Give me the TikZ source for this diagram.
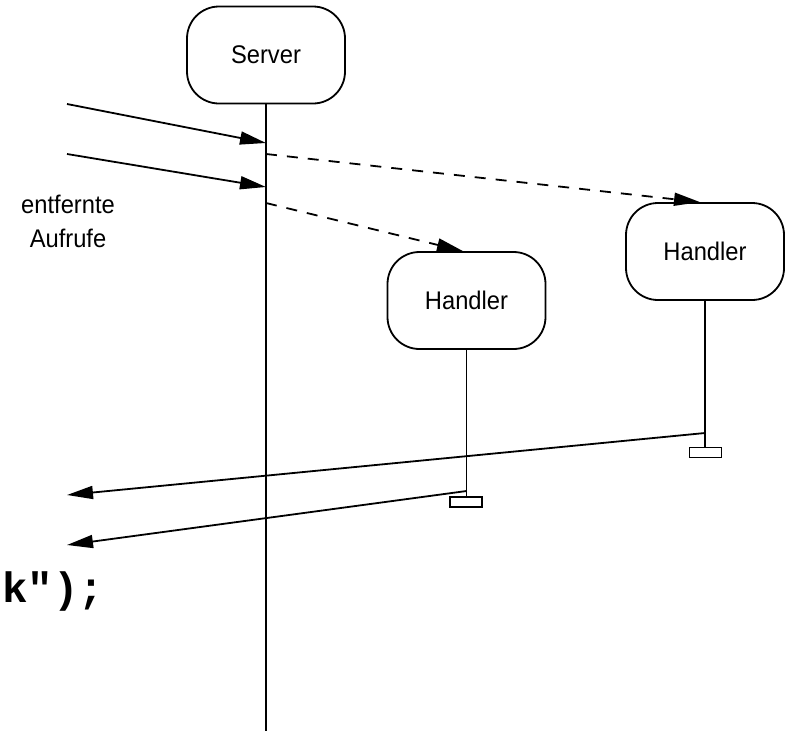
\documentclass[tikz,border=0pt]{standalone}
\usepackage{fontspec}
\setmainfont{Liberation Sans}[FakeStretch = 0.93]
\newfontfamily\codefont{Liberation Mono}
\usetikzlibrary{positioning, arrows.meta}

\begin{document}
\begin{tikzpicture}[x = 1pt, y = -1pt, line width = 1.8pt,
    proc/.style = { draw, rounded corners = 32pt, minimum width = 158pt, minimum height = 97pt, font = \fontsize{25.5}{30}\selectfont },
    stub/.style = { draw, minimum width = 32pt, minimum height = 10pt, inner sep = 0pt, line width = 1.4pt },
    msg/.style = { -{Triangle[length = 26pt, width = 13pt]} },
    call/.style = { msg, dash pattern = on 11pt off 10pt }]
    \clip (0, 0) rectangle (791, 731);

    \node[proc] (server) at (266, 55) { Server };
    \node[proc] (h1) at (466.5, 300.5) { Handler };
    \node[proc] (h2) at (705, 251.5) { Handler };
    \node[stub] (t1) at (466, 502) { };
    \node[stub] (t2) at (705.5, 452.5) { };

    \node[align = center, inner sep = 0, font = \fontsize{25.5}{34}\selectfont] (note) at (68, 221) { entfernte\\Aufrufe };
    \node[anchor = base east, inner sep = 0, font = \codefont\bfseries\fontsize{42.5}{50}\selectfont] (code) at (105, 602) { k"); };

    \coordinate (in1) at (67, 104);
    \coordinate (in2) at (67, 154);
    \coordinate (out1) at (67, 495);
    \coordinate (out2) at (67, 545);
    \coordinate (bottom) at (266, 731);

    \draw (server) -- (bottom);
    \draw (h1) -- (h1.south |- t1.north);
    \draw (h2) -- (h2.south |- t2.north);

    \draw[msg] (in1) -- (server.south |- 0, 143);
    \draw[msg] (in2) -- (server.south |- 0, 187);
    \draw[call] (server.south |- 0, 154) -- ([xshift = -5pt] h2.north);
    \draw[call] (server.south |- 0, 203) -- ([xshift = -3.5pt] h1.north);
    \draw[msg] (h2.south |- 0, 433) -- (out1);
    \draw[msg] (h1.south |- 0, 491) -- (out2);
  \end{tikzpicture}
\end{document}
